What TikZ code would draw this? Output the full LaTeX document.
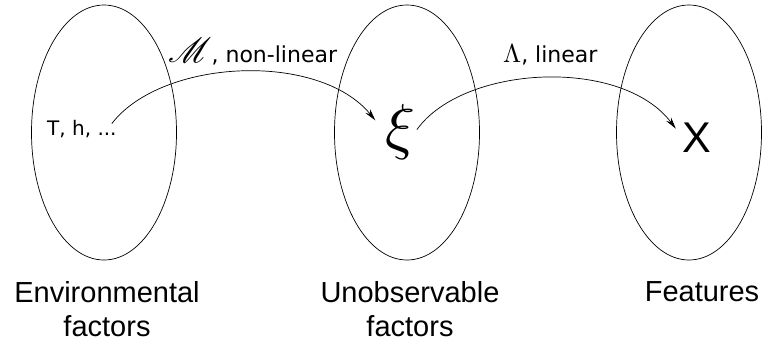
\documentclass[tikz,border=0pt]{standalone}
\usepackage{mathrsfs}
\usepackage{graphicx}
\usepackage{fontspec}
\setmainfont{Liberation Sans}
\newfontfamily\labelfont{DejaVu Sans}
\usetikzlibrary{shapes.geometric,positioning,arrows.meta}

\begin{document}
\begin{tikzpicture}[x=1pt,y=-1pt]
  \tikzset{
      > = {Stealth[length=12pt, width=6pt, inset=4pt]},
      every node/.append style = {
          inner sep = 0pt
      },
      factor/.style = {
          shape = ellipse,
          draw,
          line width = 0.7pt,
          minimum width = 145pt,
          minimum height = 255pt
      },
      caption/.style = {
          align = center,
          anchor = north,
          font = \fontsize{29}{34}\selectfont
      },
      map/.style = {
          arrows = ->,
          line width = 0.7pt
      }
  }
  \useasboundingbox (0,0) rectangle (763,343);
  % the three sets
  \node[factor] (env) at (104,132.5) {};
  \node[factor] (unobs) at (407,132.5) {};
  \node[factor] (feat) at (689,132.5) {};
  \node[caption, below=21pt of env, xshift=3pt] (envl) {Environmental\\factors};
  \node[caption, below=21pt of unobs, xshift=3pt] (unobsl) {Unobservable\\factors};
  \node[caption, below=21pt of feat, xshift=13pt] (featl) {Features};
  % contents
  \node[anchor=base west, font=\labelfont\fontsize{20}{20}\selectfont] (th) at (47,135) {T, h, ...};
  \node (xi) at (400,132) {\scalebox{6.2}{$\xi$}};
  \node[font=\fontsize{43}{43}\selectfont] (x) at (697,137.5) {X};
  % maps
  \node[anchor=base west, font=\labelfont\fontsize{22}{22}\selectfont] (ml) at (168,62)
      {\scalebox{3.5}{\normalsize$\mathscr{M}$}, non-linear};
  \node[anchor=base west, font=\labelfont\fontsize{22}{22}\selectfont] (ll) at (503,62)
      {\scalebox{2.6}{\normalsize$\Lambda$}, linear};
  \draw[map, shorten >=15pt] ([shift={(-5,4)}]th.north east)
      .. controls +(50,-65) and +(-66,-81) .. (xi.west);
  \draw[map, shorten <=3pt, shorten >=11pt] (xi.east)
      .. controls +(48,-67) and +(-61,-81) .. (x.west);
\end{tikzpicture}
\end{document}
